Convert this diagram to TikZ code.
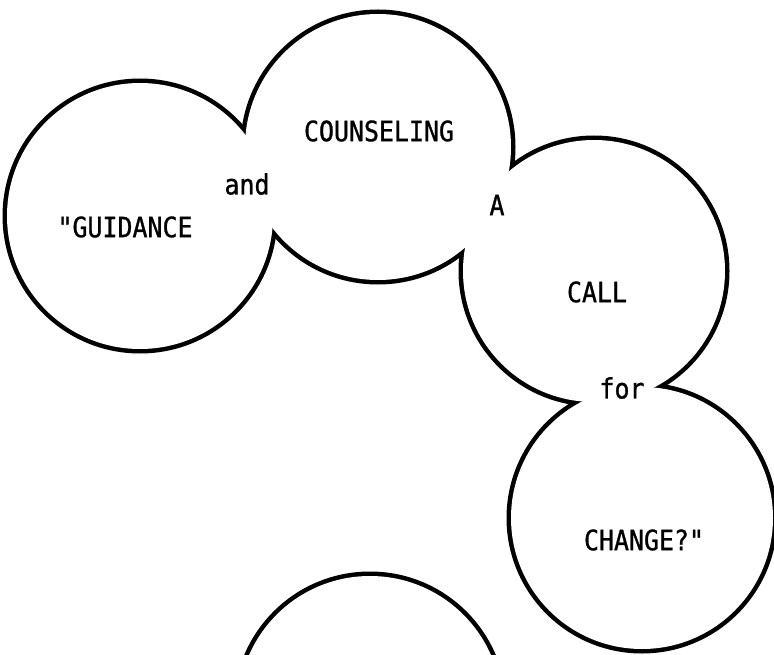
\documentclass[tikz,border=0pt]{standalone}
\usepackage{fontspec}
\newfontfamily\typefont[Ligatures=TeXOff, FakeStretch=0.89, FakeBold=1]{DejaVu Sans Mono}

\tikzset{
  rim/.style={circle, draw, line width=9pt, inner sep=0pt}, % black rim, half of it hidden later
  bubble/.style={circle, fill=white, inner sep=0pt}, % white inside of a bubble
  word/.style={font=\typefont\fontsize{28pt}{32pt}\selectfont, inner sep=0pt}
}

\begin{document}
\begin{tikzpicture}[x=1pt, y=-1pt] % Start of the bubble chain
\useasboundingbox (0,0) rectangle (774,655); % page frame

% thick rims first, so that only the outline of the chain is left
\foreach \cx/\cy/\d in {140/216/266, 378/147/266, 594/271/262, 642/518/262, 370/708/264}
  \node[rim, minimum size=\d pt] at (\cx,\cy) {};

% the bubbles, painted white over the inner rims
\node[bubble, minimum size=266pt] (guidance) at (140,216) {}; % first bubble
\node[bubble, minimum size=266pt] (counseling) at (378,147) {}; % second bubble
\node[bubble, minimum size=262pt] (call) at (594,271) {}; % third bubble
\node[bubble, minimum size=262pt] (change) at (642,518) {}; % fourth bubble
\node[bubble, minimum size=264pt] (next) at (370,708) {}; % bubble cut by the page

% the words
\node[word] (wguidance) at (125,227) {"GUIDANCE};
\node[word] (wand) at (247,184) {and};
\node[word] (wcounseling) at (379,131) {COUNSELING};
\node[word] (wa) at (497,205) {A};
\node[word] (wcall) at (597,292) {CALL};
\node[word] (wfor) at (622,388) {for};
\node[word] (wchange) at (644,540) {CHANGE?"};
\end{tikzpicture}
\end{document}
